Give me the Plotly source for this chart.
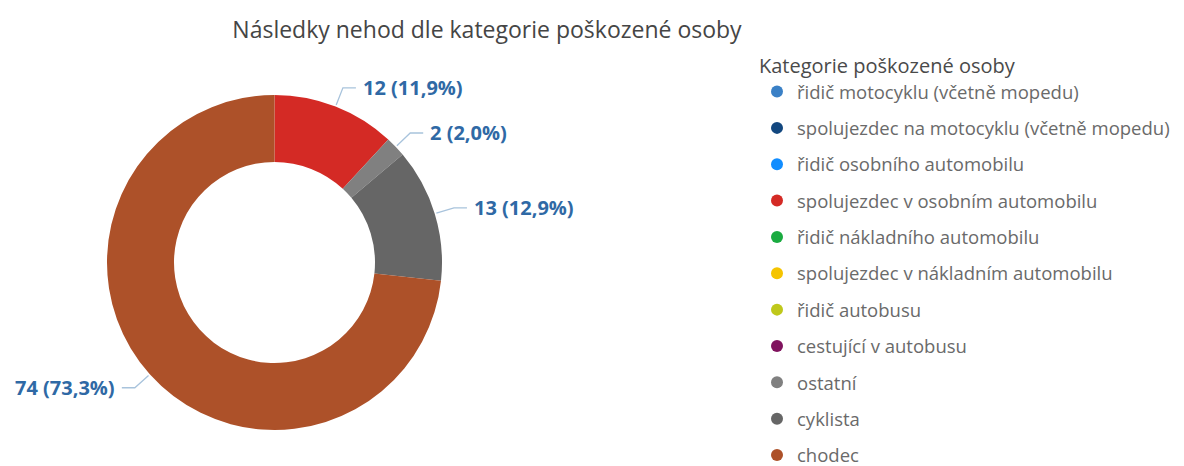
import numpy as np
import plotly.graph_objects as go

# ---- data ----
categories = [
    "řidič motocyklu (včetně mopedu)",
    "spolujezdec na motocyklu (včetně mopedu)",
    "řidič osobního automobilu",
    "spolujezdec v osobním automobilu",
    "řidič nákladního automobilu",
    "spolujezdec v nákladním automobilu",
    "řidič autobusu",
    "cestující v autobusu",
    "ostatní",
    "cyklista",
    "chodec",
]
values = [0, 0, 0, 12, 0, 0, 0, 0, 2, 13, 74]
colors = [
    "#3a80c6", "#12477f", "#118dff", "#d42a25", "#1aab40",
    "#f5c400", "#bfc81b", "#80135e", "#808080", "#666666", "#ad5129",
]

title_text = "Následky nehod dle kategorie poškozené osoby"
legend_title = "Kategorie poškozené osoby"

# ---- layout constants (pixels in the 1184x466 window) ----
WIN_W, WIN_H = 1184, 466
OFF = 8                      # page body margin
W, H = WIN_W - 2 * OFF, WIN_H
CX, CY, R = 274.5, 262.5, 167.5
FONT = "Segoe UI, Open Sans, sans-serif"
LABEL_COLOR = "#2f69a5"
LINE_COLOR = "#a8c3dc"


def px(x):
    return (x - OFF) / W


def py(y):
    return 1 - (y - OFF) / H


fig = go.Figure()

fig.add_trace(go.Pie(
    labels=categories,
    values=values,
    marker=dict(colors=colors, line=dict(width=0)),
    hole=0.60,
    sort=False,
    direction="clockwise",
    rotation=0,
    textinfo="none",
    showlegend=False,
    domain=dict(x=[px(CX - R), px(CX + R)], y=[py(CY + R), py(CY - R)]),
))

# legend entries (one group per category to get the reference row spacing)
for i, (cat, col) in enumerate(zip(categories, colors)):
    fig.add_trace(go.Scatter(
        x=[None], y=[None], mode="markers",
        marker=dict(color=col, size=12, symbol="circle"),
        name=cat, legendgroup=f"g{i}", showlegend=True,
    ))

# outside labels with leader lines, computed from the values
vals = np.array(values, dtype=float)
total = vals.sum()
cum = np.cumsum(vals)
shapes = []
annotations = []
for v, c in zip(vals, cum):
    if v <= 0:
        continue
    theta = np.deg2rad((c - v / 2) / total * 360.0)
    s, co = np.sin(theta), np.cos(theta)
    x0, y0 = CX + 1.01 * R * s, CY - 1.01 * R * co
    x1, y1 = CX + 1.12 * R * s, CY - 1.12 * R * co
    d = 1 if s >= 0 else -1
    x2 = x1 + d * 13
    shapes.append(dict(
        type="path", xref="paper", yref="paper",
        path=f"M {px(x0)} {py(y0)} L {px(x1)} {py(y1)} L {px(x2)} {py(y1)}",
        line=dict(color=LINE_COLOR, width=1.3),
    ))
    pct = f"{v / total * 100:.1f}".replace(".", ",")
    annotations.append(dict(
        x=px(x2 + d * 5), y=py(y1), xref="paper", yref="paper",
        text=f"<b>{int(v)} ({pct}%)</b>", showarrow=False,
        xanchor="left" if d > 0 else "right", yanchor="middle",
        font=dict(family=FONT, size=20, color=LABEL_COLOR),
    ))

fig.update_layout(
    width=W, height=H,
    margin=dict(l=0, r=0, t=0, b=0),
    paper_bgcolor="white", plot_bgcolor="white",
    title=dict(text=title_text, x=px(487), xanchor="center",
               y=py(30), yanchor="middle",
               font=dict(family=FONT, size=23, color="#454545")),
    xaxis=dict(visible=False), yaxis=dict(visible=False),
    legend=dict(
        title=dict(text=legend_title, font=dict(family=FONT, size=20, color="#4a4a4a")),
        font=dict(family=FONT, size=18.5, color="#6a6a6a"),
        x=px(757), xanchor="left", y=py(47), yanchor="top",
        traceorder="grouped", tracegroupgap=9.3,
        itemwidth=30,
    ),
    shapes=shapes,
    annotations=annotations,
)

fig.write_html("out.html")
